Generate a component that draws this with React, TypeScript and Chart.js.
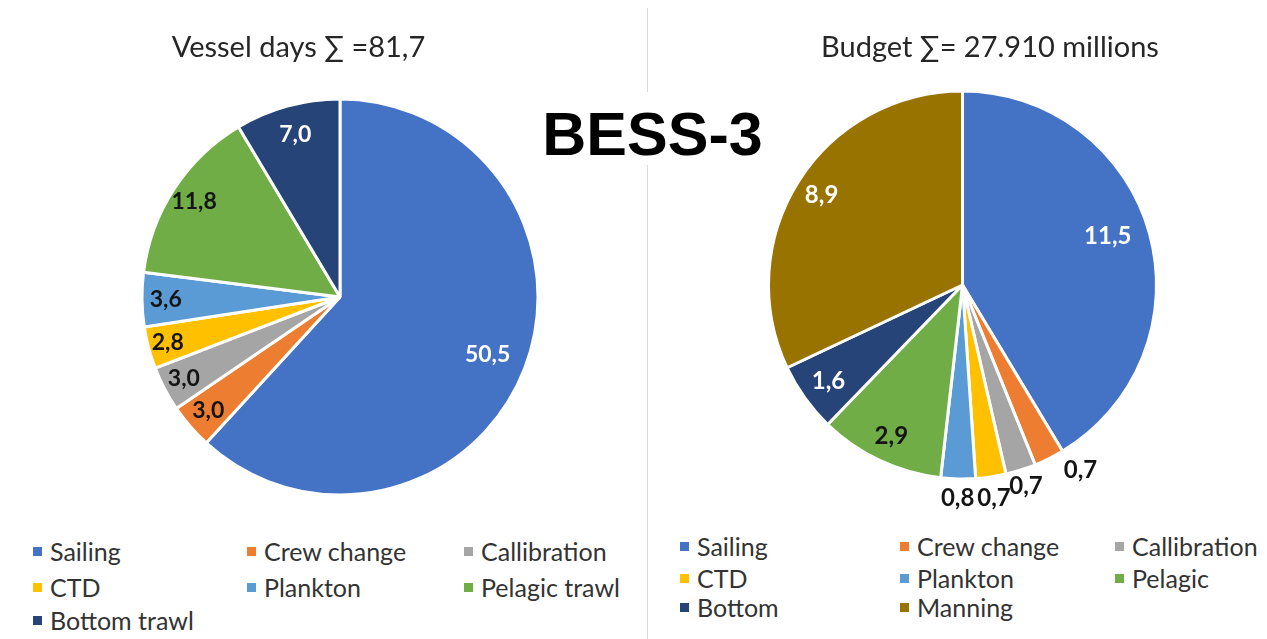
import React, { useEffect, useRef } from 'react';
import { Chart, registerables } from 'chart.js';

Chart.register(...registerables);

// ---------- data ----------
const mainTitle = 'BESS-3';
const vesselTitle = 'Vessel days ∑ =81,7';
const budgetTitle = 'Budget ∑= 27.910 millions';

const vesselCategories = ['Sailing', 'Crew change', 'Callibration', 'CTD', 'Plankton', 'Pelagic trawl', 'Bottom trawl'];
const vesselDays = [50.5, 3.0, 3.0, 2.8, 3.6, 11.8, 7.0];

const budgetCategories = ['Sailing', 'Crew change', 'Callibration', 'CTD', 'Plankton', 'Pelagic', 'Bottom', 'Manning'];
const budgetMillions = [11.5, 0.7, 0.7, 0.7, 0.8, 2.9, 1.6, 8.9];

// ---------- styles ----------
const FONT = 'Lato, "Noto Sans", sans-serif';
const vesselColors = ['#4472C4', '#ED7D31', '#A5A5A5', '#FFC000', '#5B9BD5', '#70AD47', '#264478'];
const budgetColors = ['#4472C4', '#ED7D31', '#A5A5A5', '#FFC000', '#5B9BD5', '#70AD47', '#264478', '#997300'];
const DARK = '#141414';
const WHITE = '#ffffff';
const vesselLabelFrac = [0.8, 0.88, 0.89, 0.9, 0.88, 0.88, 0.85];
const vesselLabelShift = [0, 0, 0, 0, 0, 0, 0];
const vesselLabelColors = [WHITE, DARK, DARK, DARK, DARK, DARK, WHITE];
const budgetLabelFrac = [0.79, 1.13, 1.09, 1.11, 1.1, 0.86, 0.85, 0.86];
const budgetLabelShift = [-3, -6, 0, 0, 0, 0, 0, 0];
const budgetLabelColors = [WHITE, DARK, DARK, DARK, DARK, DARK, WHITE, WHITE];

const fmt = (v: number) => v.toFixed(1).replace('.', ',');

type PieProps = {
  labels: string[];
  values: number[];
  colors: string[];
  radius: number;
  padding: { left: number; right: number; top: number; bottom: number };
  labelFrac: number[];
  labelShift: number[];
  labelColors: string[];
  fontSize: number;
  left: number;
  width: number;
  height: number;
};

function PieCanvas(p: PieProps) {
  const ref = useRef<HTMLCanvasElement>(null);
  useEffect(() => {
    if (!ref.current) return;
    const labelPlugin = {
      id: 'sliceLabels',
      afterDatasetsDraw(chart: any) {
        const ctx = chart.ctx;
        const meta = chart.getDatasetMeta(0);
        ctx.save();
        ctx.font = `bold ${p.fontSize}px ${FONT}`;
        ctx.textAlign = 'center';
        ctx.textBaseline = 'middle';
        meta.data.forEach((arc: any, i: number) => {
          const a = arc.getProps(['x', 'y', 'startAngle', 'endAngle', 'outerRadius'], true);
          const mid = (a.startAngle + a.endAngle) / 2 + (p.labelShift[i] * Math.PI) / 180;
          const r = a.outerRadius * p.labelFrac[i];
          ctx.fillStyle = p.labelColors[i];
          ctx.fillText(fmt(p.values[i]), a.x + Math.cos(mid) * r, a.y + Math.sin(mid) * r);
        });
        ctx.restore();
      },
    };
    const chart = new Chart(ref.current, {
      type: 'pie',
      data: {
        labels: p.labels,
        datasets: [
          {
            data: p.values,
            backgroundColor: p.colors,
            borderColor: '#ffffff',
            borderWidth: 3,
            radius: p.radius,
          } as any,
        ],
      },
      options: {
        animation: false,
        responsive: false,
        events: [],
        layout: { padding: p.padding },
        plugins: {
          legend: { display: false },
          tooltip: { enabled: false },
          title: { display: false },
        },
      },
      plugins: [labelPlugin],
    });
    return () => chart.destroy();
  }, []);
  return (
    <canvas
      ref={ref}
      width={p.width}
      height={p.height}
      style={{ position: 'absolute', left: p.left, top: 0, width: p.width, height: p.height }}
    />
  );
}

function Legend({
  labels,
  colors,
  colX,
  rowY,
}: {
  labels: string[];
  colors: string[];
  colX: number[];
  rowY: number[];
}) {
  return (
    <>
      {labels.map((l, i) => {
        const col = i % 3;
        const row = Math.floor(i / 3);
        return (
          <div
            key={l + i}
            style={{
              position: 'absolute',
              left: colX[col] - 17,
              top: rowY[row] - 15,
              height: 30,
              display: 'flex',
              alignItems: 'center',
              fontFamily: FONT,
              fontSize: 25,
              color: '#333',
              whiteSpace: 'nowrap',
            }}
          >
            <span style={{ display: 'inline-block', width: 9, height: 9, background: colors[i], marginRight: 8 }} />
            <span style={{ lineHeight: '30px' }}>{l}</span>
          </div>
        );
      })}
    </>
  );
}

export default function App() {
  return (
    <div
      style={{
        position: 'fixed',
        left: 0,
        top: 0,
        width: 1267,
        height: 639,
        background: '#fff',
        overflow: 'hidden',
      }}
    >
      <div style={{ position: 'absolute', left: 647, top: 8, width: 1, height: 631, background: '#d9d9d9' }} />
      <PieCanvas
        labels={vesselCategories}
        values={vesselDays}
        colors={vesselColors}
        radius={198}
        padding={{ left: 33, right: 0, top: 74, bottom: 0 }}
        labelFrac={vesselLabelFrac}
        labelShift={vesselLabelShift}
        labelColors={vesselLabelColors}
        fontSize={23}
        left={0}
        width={647}
        height={520}
      />
      <PieCanvas
        labels={budgetCategories}
        values={budgetMillions}
        colors={budgetColors}
        radius={194}
        padding={{ left: 10, right: 0, top: 50, bottom: 0 }}
        labelFrac={budgetLabelFrac}
        labelShift={budgetLabelShift}
        labelColors={budgetLabelColors}
        fontSize={24}
        left={648}
        width={619}
        height={520}
      />
      <div
        style={{
          position: 'absolute',
          left: 150,
          top: 28,
          width: 297,
          textAlign: 'center',
          fontFamily: FONT,
          fontSize: 29,
          color: '#262626',
          whiteSpace: 'nowrap',
          lineHeight: '36px',
        }}
      >
        {vesselTitle}
      </div>
      <div
        style={{
          position: 'absolute',
          left: 790,
          top: 28,
          width: 400,
          textAlign: 'center',
          fontFamily: FONT,
          fontSize: 29,
          color: '#262626',
          whiteSpace: 'nowrap',
          lineHeight: '36px',
        }}
      >
        {budgetTitle}
      </div>
      <div
        style={{
          position: 'absolute',
          left: 525,
          top: 92,
          width: 255,
          height: 73,
          background: '#fff',
          textAlign: 'center',
          fontFamily: '"Liberation Sans", Arial, sans-serif',
          fontWeight: 'bold',
          fontSize: 61,
          lineHeight: '84px',
          color: '#000',
        }}
      >
        {mainTitle}
      </div>
      <Legend labels={vesselCategories} colors={vesselColors} colX={[50, 264, 481]} rowY={[551, 587, 620]} />
      <Legend labels={budgetCategories} colors={budgetColors} colX={[697, 917, 1132]} rowY={[546, 578, 607]} />
    </div>
  );
}
